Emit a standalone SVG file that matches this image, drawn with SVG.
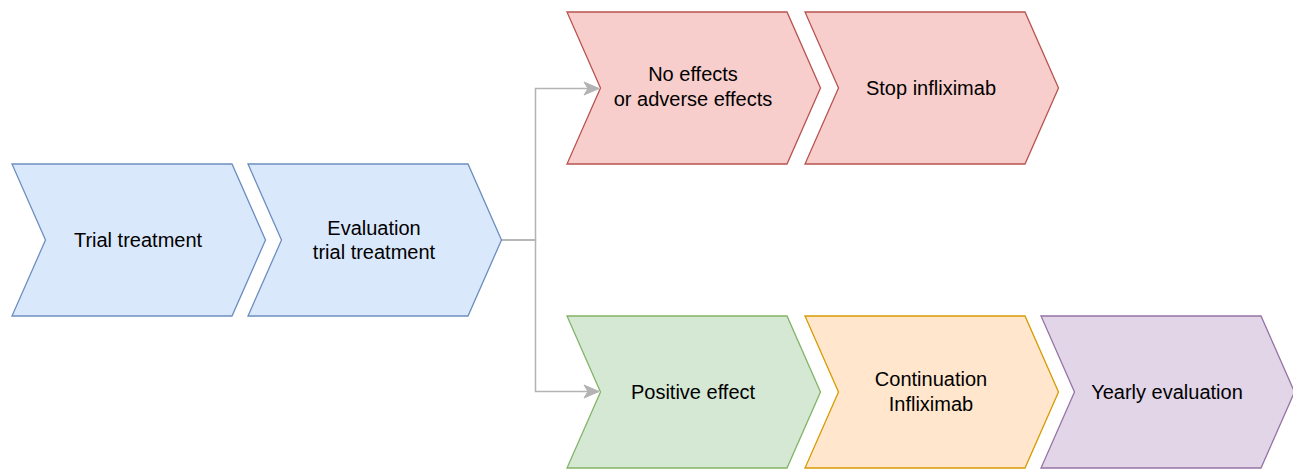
<svg xmlns="http://www.w3.org/2000/svg" width="1293" height="470" viewBox="0 0 1293 470">
<style>
.s{stroke-width:1.3;stroke-linejoin:miter}
.blue{fill:#dae8fc;stroke:#6c8ebf}
.red{fill:#f8cecc;stroke:#b85450}
.green{fill:#d5e8d4;stroke:#82b366}
.orange{fill:#ffe6cc;stroke:#d79b00}
.purple{fill:#e1d5e7;stroke:#9673a6}
text{font-family:"Liberation Sans",Arial,Helvetica,sans-serif;font-size:20px;fill:#000;text-anchor:middle}
.c{fill:none;stroke:#b3b3b3;stroke-width:1.5}
</style>
<defs>
<marker id="ah" markerUnits="userSpaceOnUse" markerWidth="20" markerHeight="20" refX="16" refY="8" orient="auto">
<path d="M1,1.5 L16,8 L1,14.5 L5,8 Z" fill="#b3b3b3" stroke="#b3b3b3" stroke-width="1"/>
</marker>
</defs>
<g id="connectors">
<path class="c" d="M501.5,240 H535.5 V88.5 H599" marker-end="url(#ah)"/>
<path class="c" d="M501.5,240 H535.5 V391.5 H599" marker-end="url(#ah)"/>
</g>
<g id="trial">
<path class="s blue" d="M12,164 H232 L265.5,240 L232,316 H12 L45.5,240 Z"/>
<text x="138" y="246.5">Trial treatment</text>
</g>
<g id="evaluation">
<path class="s blue" d="M248,164 H468 L501.5,240 L468,316 H248 L281.5,240 Z"/>
<text x="374" y="234.5">Evaluation</text>
<text x="374" y="259">trial treatment</text>
</g>
<g id="noeffects">
<path class="s red" d="M567,12 H787 L820.5,88 L787,164 H567 L600.5,88 Z"/>
<text x="693" y="81">No effects</text>
<text x="693" y="106">or adverse effects</text>
</g>
<g id="stop">
<path class="s red" d="M805,12 H1025 L1058.5,88 L1025,164 H805 L838.5,88 Z"/>
<text x="931" y="94.5">Stop infliximab</text>
</g>
<g id="positive">
<path class="s green" d="M567,316 H787 L820.5,392 L787,468 H567 L600.5,392 Z"/>
<text x="693" y="398.5">Positive effect</text>
</g>
<g id="continuation">
<path class="s orange" d="M805,316 H1025 L1058.5,392 L1025,468 H805 L838.5,392 Z"/>
<text x="931" y="386">Continuation</text>
<text x="931" y="411">Infliximab</text>
</g>
<g id="yearly">
<path class="s purple" d="M1041,316 H1261 L1294.5,392 L1261,468 H1041 L1074.5,392 Z"/>
<text x="1167" y="398.5">Yearly evaluation</text>
</g>
</svg>
